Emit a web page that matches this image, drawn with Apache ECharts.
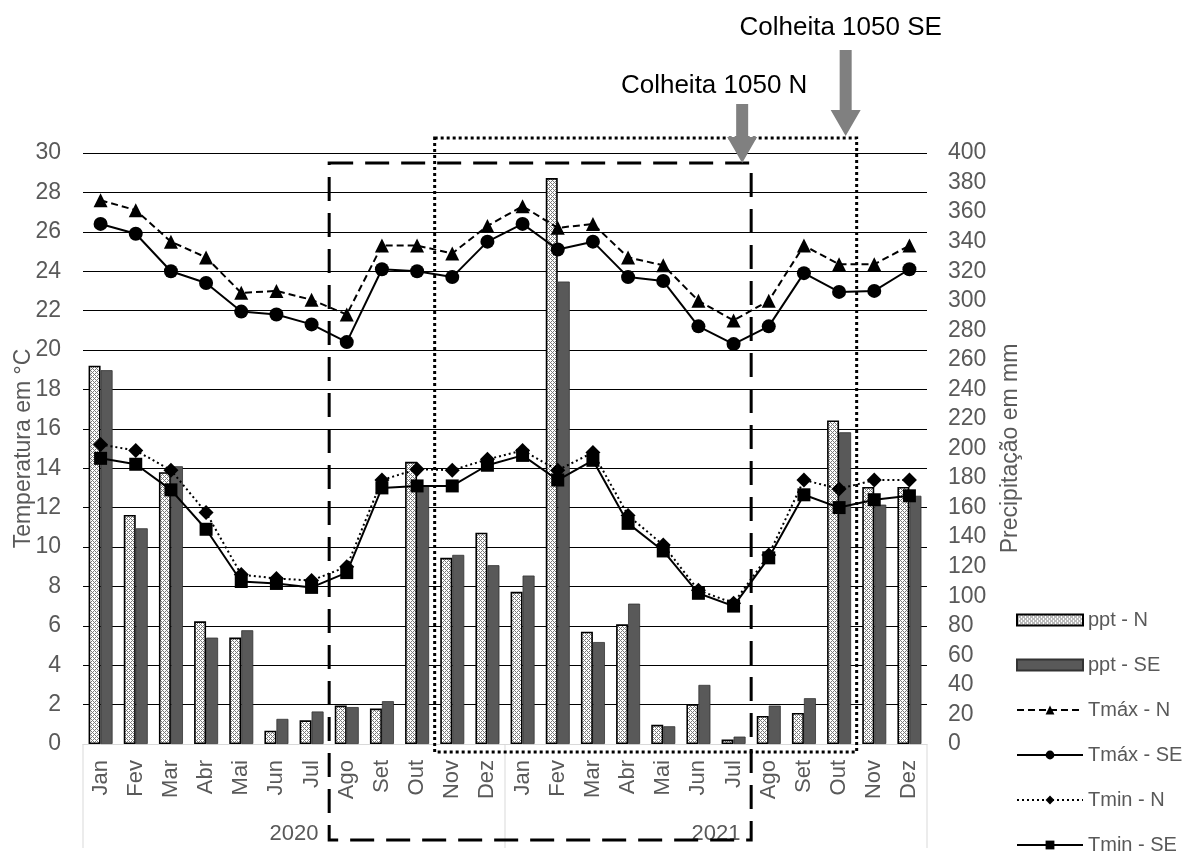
<!DOCTYPE html>
<html><head><meta charset="utf-8">
<script src="https://cdn.jsdelivr.net/npm/echarts@6/dist/echarts.min.js"></script>
<style>html,body{margin:0;padding:0;background:#fff}#c{width:1195px;height:854px}</style>
</head><body><div id="c"></div>
<script>
const monthNames = ['Jan','Fev','Mar','Abr','Mai','Jun','Jul','Ago','Set','Out','Nov','Dez'];
const months = monthNames.concat(monthNames);
const years = ['2020','2021'];
const pptN  = [256,155,184,83,72,9,16,26,24,191,126,143,103,383,76,81,13,27,3,19,21,219,174,174];
const pptSE = [253,146,188,72,77,17,22,25,29,175,128,121,114,313,69,95,12,40,5,26,31,211,162,168];
const tmaxN  = [27.6,27.1,25.5,24.7,22.9,23.0,22.55,21.8,25.3,25.3,24.9,26.3,27.3,26.2,26.4,24.7,24.3,22.5,21.5,22.5,25.3,24.35,24.35,25.3];
const tmaxSE = [26.4,25.9,24.0,23.4,21.95,21.8,21.3,20.4,24.1,24.0,23.7,25.5,26.4,25.1,25.5,23.7,23.5,21.2,20.3,21.2,23.9,22.95,23.0,24.1];
const tminN  = [15.2,14.9,13.9,11.75,8.6,8.4,8.3,9.0,13.4,13.95,13.9,14.45,14.9,13.9,14.8,11.6,10.1,7.8,7.15,9.6,13.4,12.95,13.4,13.4];
const tminSE = [14.5,14.2,12.9,10.9,8.25,8.15,7.95,8.7,13.0,13.1,13.1,14.15,14.65,13.4,14.4,11.2,9.8,7.65,7.0,9.45,12.65,12.0,12.4,12.6];
const tempTicks = {min:0, max:30, interval:2};
const pptTicks = {min:0, max:400, interval:20};

const FONT = '"Liberation Sans", Arial, sans-serif';
const GREY = '#595959';

function hatch(){
  const c = document.createElement('canvas'); c.width = 4; c.height = 4;
  const g = c.getContext('2d');
  g.fillStyle = '#ffffff'; g.fillRect(0,0,4,4);
  g.fillStyle = '#7a7a7a';
  for (let x=0;x<4;x++) for (let y=0;y<4;y++) {
    if ((x+y)%4===0 || ((x-y)+4)%4===0) g.fillRect(x,y,1,1);
  }
  return {image: c, repeat: 'repeat'};
}

const chart = echarts.init(document.getElementById('c'), null, {renderer:'canvas'});
const option = {
  backgroundColor: '#fff',
  animation: false,
  textStyle: {fontFamily: FONT},
  grid: {left: 83, right: 268, top: 153, bottom: 110, containLabel: false, outerBoundsMode: 'none'},
  legend: {
    orient: 'vertical', left: 1016, top: 610, height: 260, padding: 0,
    itemWidth: 66, itemHeight: 11, itemGap: 25,
    textStyle: {fontSize: 20, color: GREY, fontFamily: FONT},
    data: [{name:'ppt - N', icon:'rect'},{name:'ppt - SE', icon:'rect'},'Tmáx - N','Tmáx - SE','Tmin - N','Tmin - SE']
  },
  xAxis: [
    {type:'category', data: months, boundaryGap: true,
     axisLine: {show:true, lineStyle:{color:'#d9d9d9', width:1}},
     axisTick: {show:false},
     axisLabel: {rotate: 90, fontSize: 22, color: GREY, margin: 16, interval: 0, fontFamily: FONT}},
    {type:'category', data: years, position:'bottom', offset: 103, boundaryGap: true,
     axisLine: {show:false},
     axisTick: {show:false},
     axisLabel: {inside:true, margin: 2, fontSize: 22, color: GREY, fontFamily: FONT}}
  ],
  yAxis: [
    {type:'value', min: tempTicks.min, max: tempTicks.max, interval: tempTicks.interval,
     name: 'Temperatura em °C', nameLocation: 'middle', nameGap: 48, nameRotate: 90, nameMoveOverlap: false,
     nameTextStyle: {fontSize: 23, color: GREY, fontFamily: FONT},
     axisLine:{show:false}, axisTick:{show:false},
     axisLabel:{fontSize: 23, color: GREY, margin: 22, fontFamily: FONT},
     splitLine:{show:true, lineStyle:{color:'#000', width:1}}},
    {type:'value', min: pptTicks.min, max: pptTicks.max, interval: pptTicks.interval,
     name: 'Precipitação em mm', nameLocation: 'middle', nameGap: 72, nameRotate: 90, nameMoveOverlap: false,
     nameTextStyle: {fontSize: 23, color: GREY, fontFamily: FONT},
     axisLine:{show:false}, axisTick:{show:false},
     axisLabel:{fontSize: 23, color: GREY, margin: 21, fontFamily: FONT},
     splitLine:{show:false}}
  ],
  series: [
    {name:'ppt - N', type:'bar', yAxisIndex:1, data: pptN, barWidth: 12, barGap: '0%',
     itemStyle:{color: hatch(), borderColor:'#000', borderWidth: 1.6}},
    {name:'ppt - SE', type:'bar', yAxisIndex:1, data: pptSE, barWidth: 12, barGap: '0%',
     itemStyle:{color:'#595959', borderColor:'#333', borderWidth: 0.8}},
    {name:'Tmáx - N', type:'line', yAxisIndex:0, data: tmaxN, symbol:'triangle', symbolSize: 14,
     lineStyle:{color:'#000', width:2, type:[7,4]}, itemStyle:{color:'#000'}},
    {name:'Tmáx - SE', type:'line', yAxisIndex:0, data: tmaxSE, symbol:'circle', symbolSize: 14,
     lineStyle:{color:'#000', width:2, type:'solid'}, itemStyle:{color:'#000'}},
    {name:'Tmin - N', type:'line', yAxisIndex:0, data: tminN, symbol:'diamond', symbolSize: 15,
     lineStyle:{color:'#000', width:2, type:[2,3]}, itemStyle:{color:'#000'}},
    {name:'Tmin - SE', type:'line', yAxisIndex:0, data: tminSE, symbol:'rect', symbolSize: 13,
     lineStyle:{color:'#000', width:2, type:'solid'}, itemStyle:{color:'#000'}}
  ]
};
chart.setOption(option);

// Annotation boxes and year separators built from category positions
const px = i => chart.convertToPixel({xAxisIndex:0}, i);
const band = px(1) - px(0);
const baseY = chart.convertToPixel({yAxisIndex:0}, 0);
const dashL = px(7) - band/2, dashR = px(18) + band/2;
const dotL = px(10) - band/2, dotR = px(21) + band/2;
const dashTop = 163, dashBot = 840, dotTop = 138, dotBot = 752;
function arrow(cx, tipY, topY){
  const sw = 6, hw = 15, hh = 26;
  return [[cx-sw, topY],[cx+sw, topY],[cx+sw, tipY-hh],[cx+hw, tipY-hh],[cx, tipY],[cx-hw, tipY-hh],[cx-sw, tipY-hh]];
}
const sepXs = [px(0) - band/2, px(12) - band/2, px(23) + band/2];
const seps = sepXs.map(x => ({type:'line', z:5, shape:{x1:x, y1:baseY, x2:x, y2:baseY+104}, style:{stroke:'#d9d9d9', lineWidth:1}}));
const nX = dashR - 9, seX = dotR - 11;
chart.setOption({graphic: seps.concat([
  {type:'rect', z:100, shape:{x: dotL, y: dotTop, width: dotR-dotL, height: dotBot-dotTop},
   style:{fill:'none', stroke:'#000', lineWidth:3, lineDash:[3,3]}},
  {type:'rect', z:100, shape:{x: dashL, y: dashTop, width: dashR-dashL, height: dashBot-dashTop},
   style:{fill:'none', stroke:'#000', lineWidth:3, lineDash:[24,12]}},
  {type:'polygon', z:101, shape:{points: arrow(nX, dashTop, 104)}, style:{fill:'#808080'}},
  {type:'polygon', z:101, shape:{points: arrow(seX, dotTop-2, 50)}, style:{fill:'#808080'}},
  {type:'text', z:102, x: nX - 28, y: 86, style:{text:'Colheita 1050 N', fill:'#000', fontSize: 26, fontFamily: FONT, align:'center', verticalAlign:'middle'}},
  {type:'text', z:102, x: seX - 5, y: 28, style:{text:'Colheita 1050 SE', fill:'#000', fontSize: 26, fontFamily: FONT, align:'center', verticalAlign:'middle'}}
])});
</script></body></html>
